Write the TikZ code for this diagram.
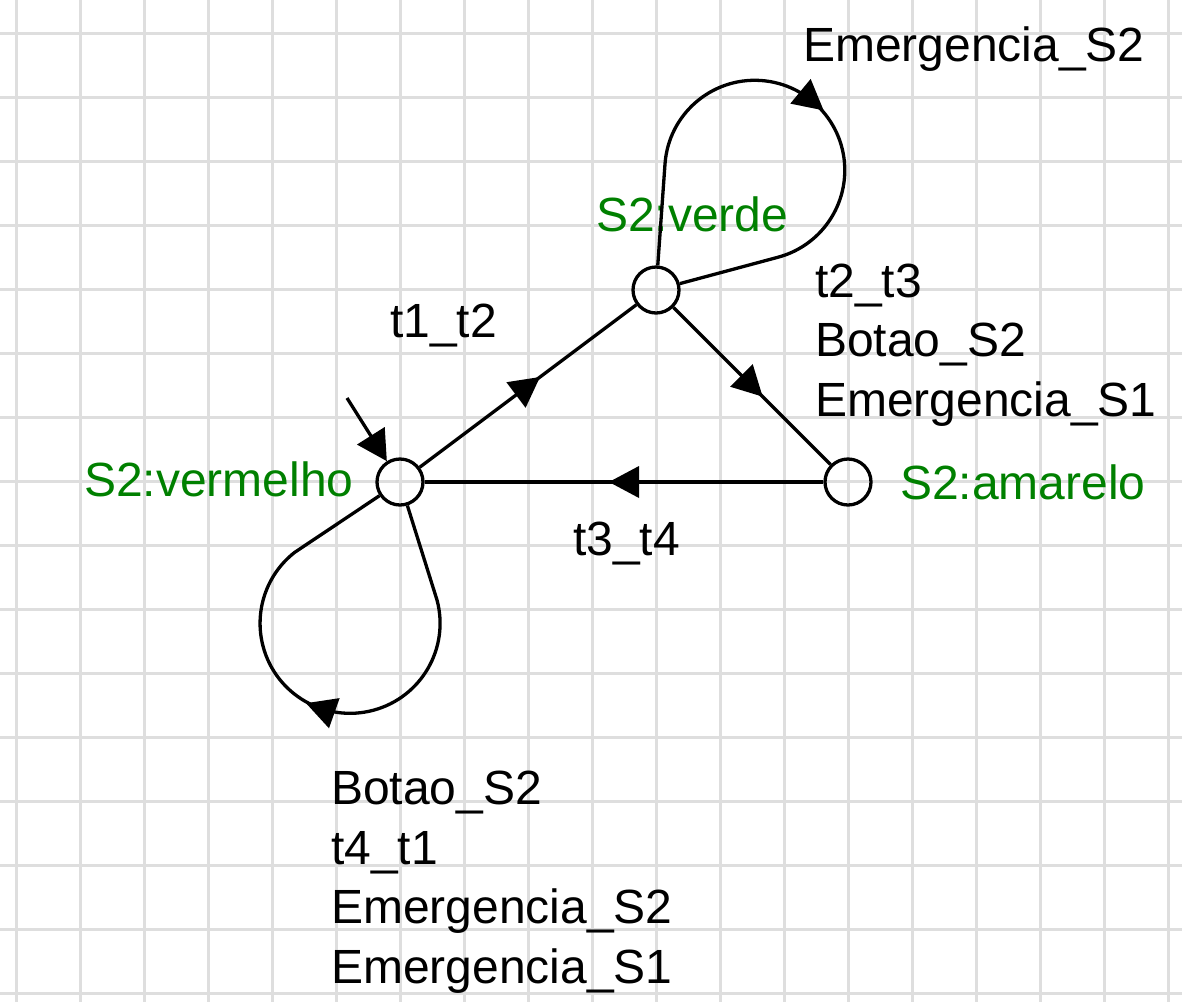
\documentclass[tikz,border=0pt]{standalone}
\usepackage{fontspec}
\setmainfont{Liberation Sans}
\usetikzlibrary{arrows.meta,decorations.markings}
\definecolor{gridgray}{RGB}{222,222,222}
\definecolor{stategreen}{RGB}{0,128,0}
\begin{document}
\begin{tikzpicture}[
		x=1pt, y=1pt,
		font=\fontsize{48}{59.5}\selectfont,
		every node/.style={
				inner sep=0pt,
			},
		gridline/.style={gridgray, line width=3pt},
		state/.style={circle, draw, line width=3.3pt, minimum size=46pt},
		statename/.style={text=stategreen, anchor=base west},
		eventlabel/.style={anchor=base west, align=left},
		trans/.style={line width=3.3pt},
		midarrow/.style={postaction={decorate, decoration={markings,
							mark=at position 0.5 with {\fill (15pt,0) -- (-15pt,16pt) -- (-15pt,-16pt) -- cycle;}}}},]
	\useasboundingbox (0,0) rectangle (1182,-1002);
	% grid paper
	\foreach \gx in {16,80,...,1168} {
			\draw [gridline] (\gx,0) -- (\gx,-1002);
		}
	\foreach \gy in {33,97,...,993} {
			\draw [gridline] (0,-\gy) -- (1182,-\gy);
		}
	% states
	\node[state] (verde) at (656,-290) {};
	\node[state] (amarelo) at (848,-482) {};
	\node[state] (vermelho) at (400,-482) {};
	\node[statename] (verdename) at (596,-231) {S2:verde};
	\node[statename] (amarelename) at (900,-499) {S2:amarelo};
	\node[statename] (vermelhoname) at (84,-496) {S2:vermelho};
	% transitions
	\coordinate (init) at (347,-398);
	\draw [trans, -{Triangle[length=30pt,width=32pt]}] (init) -- (vermelho);
	\draw [trans, midarrow] (vermelho) -- (verde);
	\draw [trans, midarrow] (verde) -- (amarelo);
	\draw [trans, midarrow] (amarelo) -- (vermelho);
	\draw [trans, midarrow] (verde) -- (665,-164) arc[start angle=176, end angle=-75, radius=90] -- (verde);
	\draw [trans, midarrow] (vermelho) -- (437,-600) arc[start angle=15, end angle=-232, radius=90] -- (vermelho);
	% event labels (base = last line)
	\node[eventlabel] (verdeloop) at (803,-61) {Emergencia\_S2};
	\node[eventlabel] (tonetwo) at (390,-337) {t1\_t2};
	\node[eventlabel] (twothree) at (815,-416) {t2\_t3\\Botao\_S2\\Emergencia\_S1};
	\node[eventlabel] (threefour) at (573,-555) {t3\_t4};
	\node[eventlabel] (vermelholoop) at (331,-983) {Botao\_S2\\t4\_t1\\Emergencia\_S2\\Emergencia\_S1};
\end{tikzpicture}
\end{document}
